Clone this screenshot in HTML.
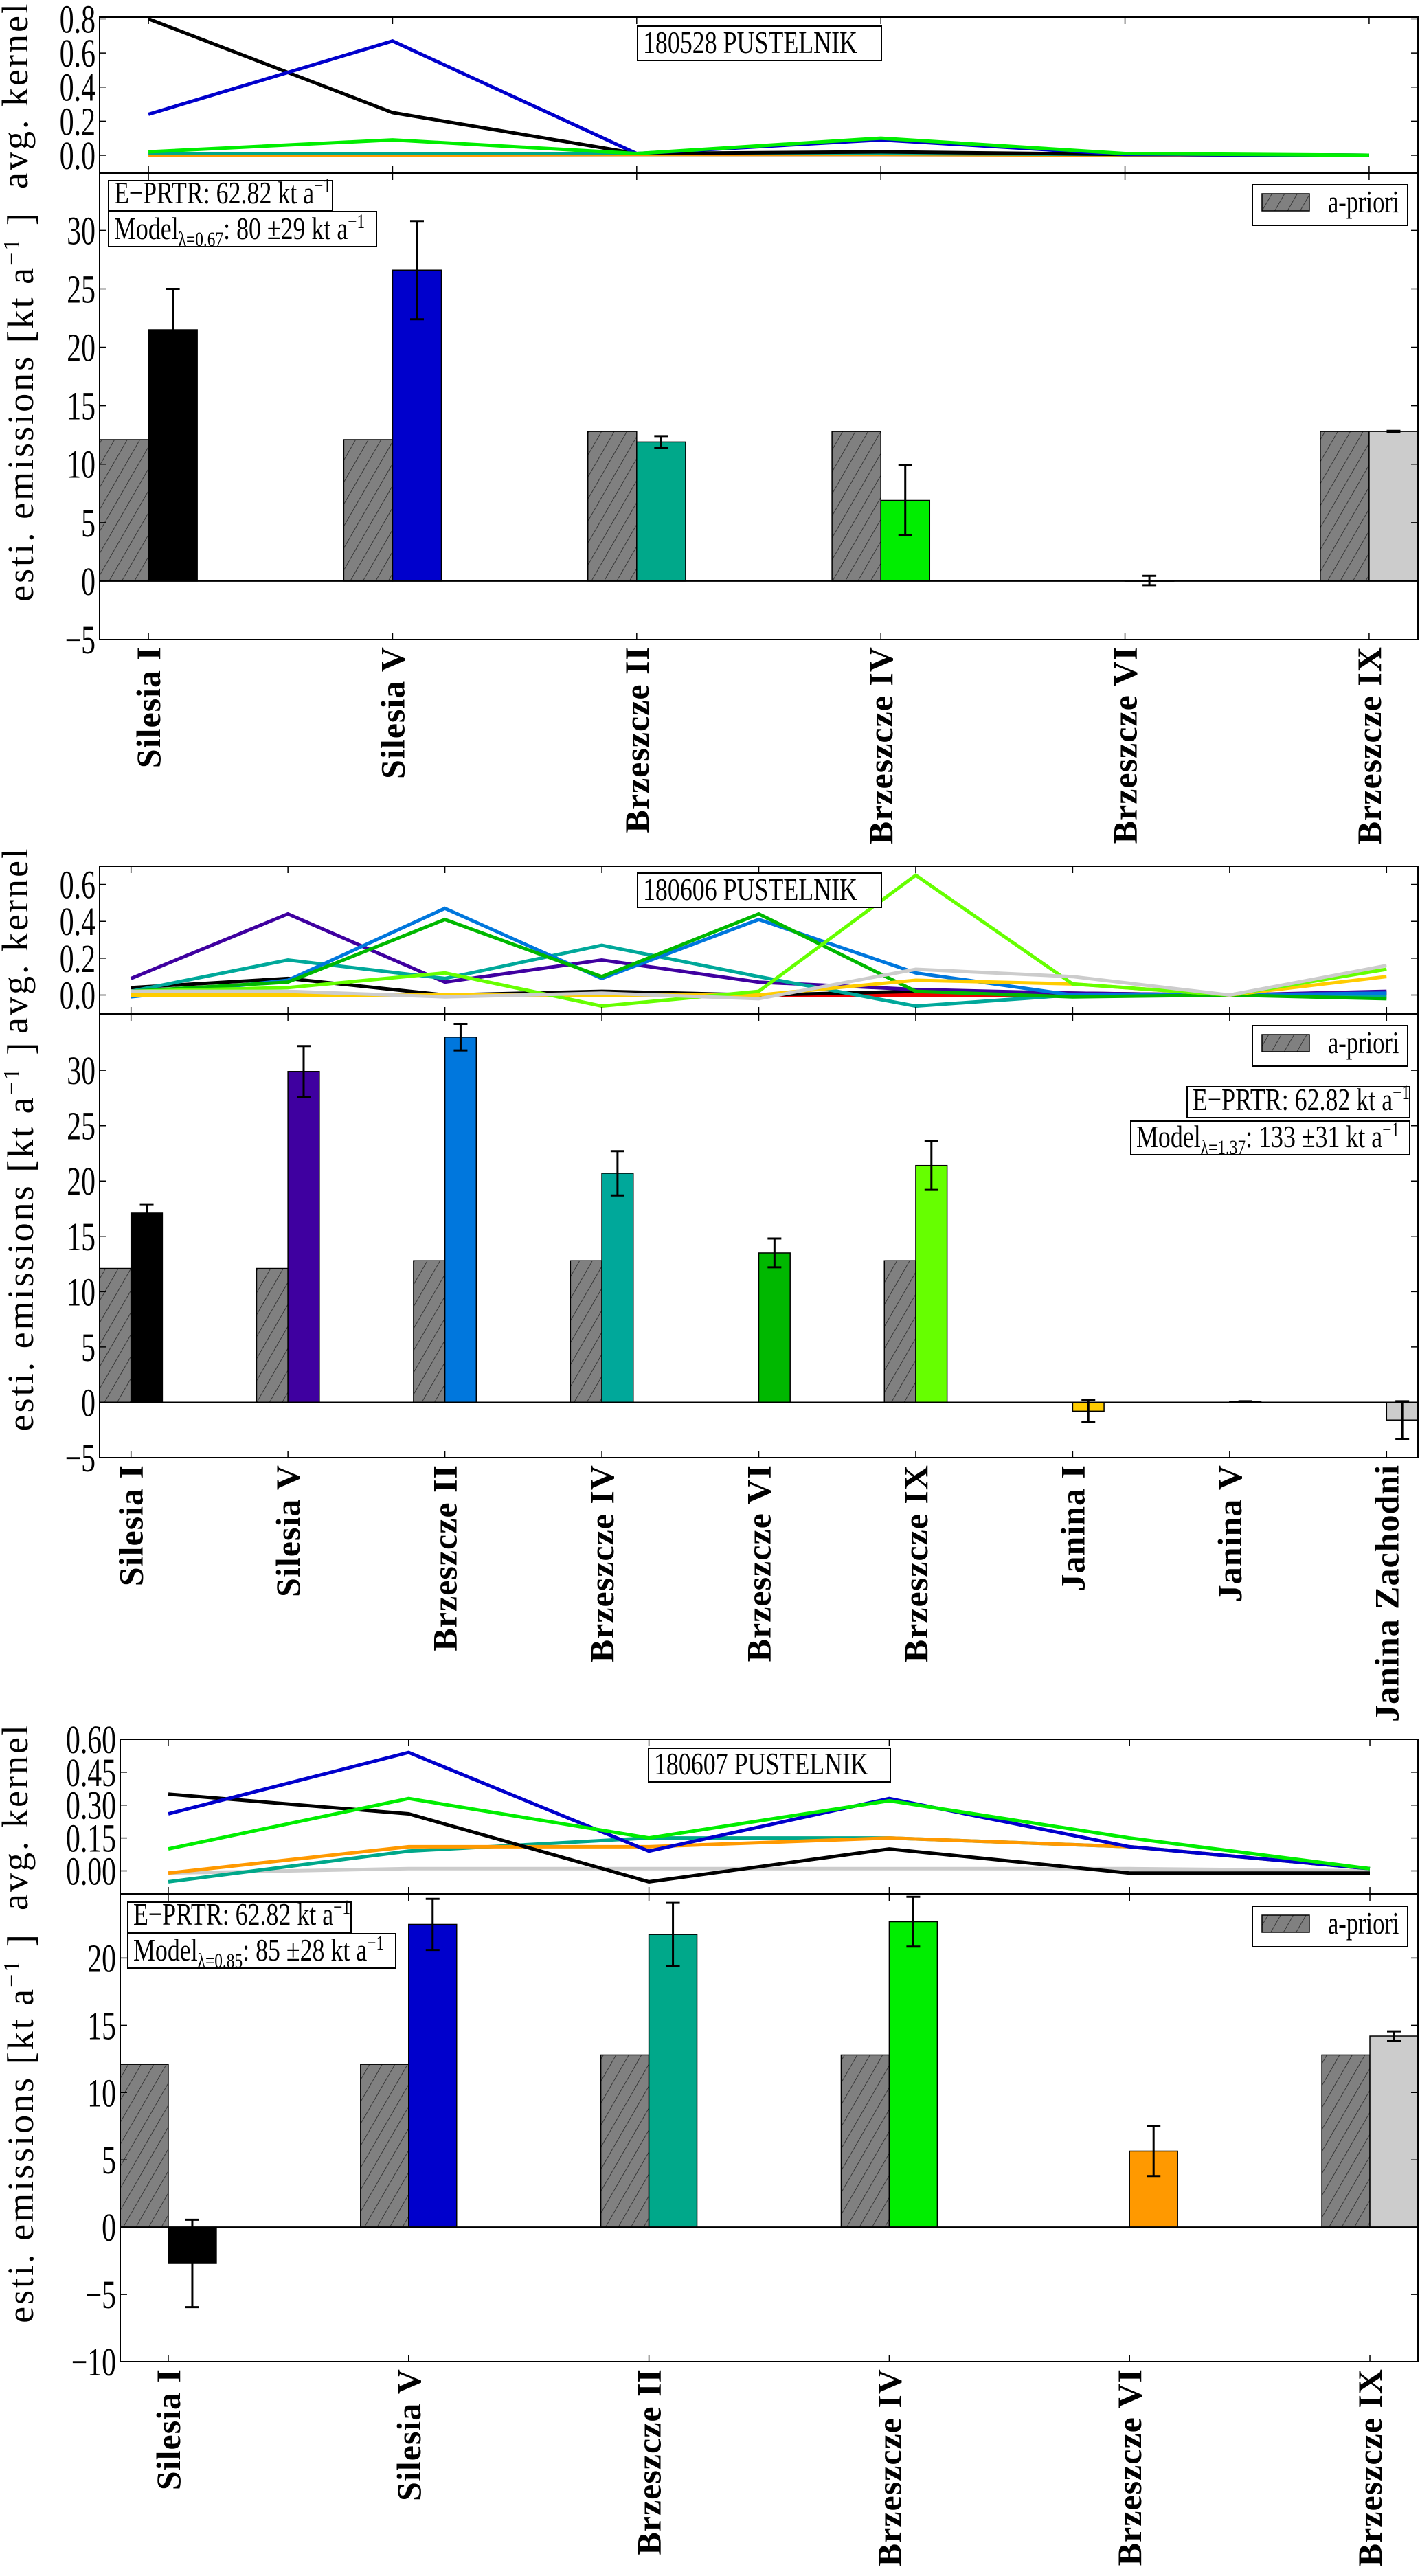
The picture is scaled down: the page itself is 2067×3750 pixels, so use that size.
<!DOCTYPE html>
<html><head><meta charset="utf-8"><style>
html,body{margin:0;padding:0;background:#fff;}
svg{display:block;}
text{font-family:"Liberation Serif",serif;fill:#000;}
</style></head><body>
<svg id="chart" width="2067" height="3750" viewBox="0 0 2067 3750" xmlns="http://www.w3.org/2000/svg">
<defs>
<pattern id="hatch" patternUnits="userSpaceOnUse" width="16" height="16" patternTransform="rotate(30)">
<rect width="16" height="16" fill="#808080"/>
<line x1="0" y1="0" x2="0" y2="16" stroke="#222" stroke-width="1.5"/>
</pattern>
</defs>
</svg>
<script>
// ---------- Panel 1 data (180528) ----------
const p1Categories = ["Silesia I","Silesia V","Brzeszcze II","Brzeszcze IV","Brzeszcze VI","Brzeszcze IX"];
const p1Apriori = [12.1,12.1,12.8,12.8,0,12.8];
const p1Estimate = [21.5,26.6,11.9,6.9,0.05,12.8];
const p1Error = [3.5,4.2,0.5,3.0,0.4,0.05];
const p1Colors = ["#000000","#0000cc","#00a88a","#00ee00","#ff9900","#cccccc"];
const p1KernelBlack = [0.80,0.25,0.01,0.02,0.005,0];
const p1KernelBlue = [0.24,0.67,0.01,0.09,0.005,0];
const p1KernelTeal = [0.01,0.01,0.01,0.01,0.005,0];
const p1KernelGreen = [0.02,0.09,0.01,0.10,0.01,0];
const p1KernelOrange = [0,0,0.005,0.005,0,0];
const p1KernelGrey = [0,0,0,0,0,0];
const p1KTicks = ["0.0","0.2","0.4","0.6","0.8"];
const p1BTicks = ["-5","0","5","10","15","20","25","30"];

// ---------- Panel 2 data (180606) ----------
const p2Categories = ["Silesia I","Silesia V","Brzeszcze II","Brzeszcze IV","Brzeszcze VI","Brzeszcze IX","Janina I","Janina V","Janina Zachodni"];
const p2Apriori = [12.1,12.1,12.8,12.8,0,12.8,0,0,0];
const p2Estimate = [17.1,29.9,33.0,20.7,13.5,21.4,-0.8,0.05,-1.6];
const p2Error = [0.8,2.3,1.2,2.0,1.3,2.2,1.0,0.05,1.7];
const p2Colors = ["#000000","#3f00a0","#0077dd","#00a89a","#00b800","#66ff00","#ffcc00","#ee0000","#cccccc"];
const p2KernelBlack = [0.04,0.09,0.0,0.02,0.0,0.02,0.01,0.0,0.01];
const p2KernelIndigo = [0.09,0.44,0.07,0.19,0.07,0.03,0.01,0.0,0.02];
const p2KernelBlue = [-0.01,0.08,0.47,0.09,0.41,0.12,0.0,0.0,0.01];
const p2KernelTeal = [0.02,0.19,0.09,0.27,0.10,-0.06,0.0,0.0,-0.01];
const p2KernelGreen = [0.02,0.07,0.41,0.10,0.44,0.02,-0.01,0.0,-0.02];
const p2KernelLime = [0.02,0.04,0.12,-0.06,0.02,0.65,0.06,0.0,0.14];
const p2KernelYellow = [0.0,0.0,0.0,0.0,0.0,0.08,0.06,0.0,0.10];
const p2KernelRed = [0,0,0,0,0,0,0,0,0];
const p2KernelGrey = [0.02,0.02,-0.01,0.01,-0.02,0.14,0.10,0.0,0.16];
const p2KTicks = ["0.0","0.2","0.4","0.6"];
const p2BTicks = ["-5","0","5","10","15","20","25","30"];

// ---------- Panel 3 data (180607) ----------
const p3Categories = ["Silesia I","Silesia V","Brzeszcze II","Brzeszcze IV","Brzeszcze VI","Brzeszcze IX"];
const p3Apriori = [12.1,12.1,12.8,12.8,0,12.8];
const p3Estimate = [-2.7,22.5,21.75,22.7,5.65,14.2];
const p3Error = [3.25,1.9,2.35,1.85,1.85,0.35];
const p3Colors = ["#000000","#0000cc","#00a88a","#00ee00","#ff9900","#cccccc"];
const p3KernelBlack = [0.35,0.26,-0.05,0.10,-0.01,-0.01];
const p3KernelBlue = [0.26,0.54,0.09,0.33,0.11,0.01];
const p3KernelTeal = [-0.05,0.09,0.15,0.15,0.11,0.01];
const p3KernelGreen = [0.10,0.33,0.15,0.32,0.15,0.01];
const p3KernelOrange = [-0.01,0.11,0.11,0.15,0.11,0.01];
const p3KernelGrey = [-0.01,0.01,0.01,0.01,0.01,0.0];
const p3KTicks = ["0.00","0.15","0.30","0.45","0.60"];
const p3BTicks = ["-10","-5","0","5","10","15","20"];

const NS="http://www.w3.org/2000/svg";
const svg=document.getElementById('chart');
function mk(tag,attrs,parent,txt){const e=document.createElementNS(NS,tag);for(const k in attrs)e.setAttribute(k,attrs[k]);if(txt!==undefined)e.textContent=txt;(parent||svg).appendChild(e);return e;}
function sx(x,s){return `translate(${x},0) scale(${s},1) translate(${-x},0)`;}

function drawPanel(cfg){
  const g=mk('g',{});
  
  
  const n=cfg.cats.length;
  const L=cfg.left,R=cfg.right;
  const xs=i=>L+(i+0.2)/(n-1+0.4)*(R-L);
  const unit=(R-L)/(n-1+0.4);
  const ky=v=>cfg.sep-(v-cfg.kMin)/(cfg.kMax-cfg.kMin)*(cfg.sep-cfg.kTop);
  const by=v=>cfg.bBottom-(v-cfg.bMin)/(cfg.bMax-cfg.bMin)*(cfg.bBottom-cfg.sep);
  cfg.kSeries.forEach(s=>{
    const pts=s.vals.map((v,i)=>xs(i).toFixed(1)+','+ky(v).toFixed(1)).join(' ');
    const pl=mk('polyline',{points:pts,fill:'none',stroke:s.color,'stroke-width':5},g);
    
    
  });
  const y0=by(0);
  cfg.cats.forEach((c,i)=>{
    const x=xs(i);
    if(cfg.apriori[i]!==0){
      const a=mk('rect',{x:x-0.2*unit,y:by(cfg.apriori[i]),width:0.2*unit,height:y0-by(cfg.apriori[i]),fill:'url(#hatch)',stroke:'#000','stroke-width':1.5},g);
      
      
    }
    const v=cfg.est[i];
    const top=Math.min(by(v),y0),h=Math.abs(y0-by(v));
    const b=mk('rect',{x:x,y:top,width:0.2*unit,height:Math.max(h,1),fill:cfg.colors[i],stroke:'#000','stroke-width':1.5},g);
    
    
    const ex=x+0.1*unit,e=cfg.err[i];
    const eb=mk('path',{d:`M${ex},${by(v+e)}V${by(v-e)}M${ex-10},${by(v+e)}H${ex+10}M${ex-10},${by(v-e)}H${ex+10}`,stroke:'#000','stroke-width':3,fill:'none'},g);
    
    
    const lt=mk('text',{x:0,y:0,transform:`translate(${x+17},${cfg.bBottom+10}) rotate(-90)`,'text-anchor':'end','font-size':50,'font-weight':'bold','letter-spacing':'1'},g,c);
    
    
    mk('path',{d:`M${x},${cfg.bBottom}v-10M${x},${cfg.sep}v10M${x},${cfg.sep}v-10M${x},${cfg.kTop}v10`,stroke:'#000','stroke-width':1.5},g);
  });
  const z=mk('line',{x1:L,x2:R,y1:y0,y2:y0,stroke:'#000','stroke-width':2},g);
  
  
  const kf=mk('rect',{x:L,y:cfg.kTop,width:R-L,height:cfg.sep-cfg.kTop,fill:'none',stroke:'#000','stroke-width':2},g);
  
  
  const bf=mk('rect',{x:L,y:cfg.sep,width:R-L,height:cfg.bBottom-cfg.sep,fill:'none',stroke:'#000','stroke-width':2},g);
  
  
  cfg.kTicks.forEach(t=>{const y=ky(parseFloat(t));
    mk('path',{d:`M${L},${y}h10M${R},${y}h-10`,stroke:'#000','stroke-width':1.5},g);
    const tt=mk('text',{x:L-6,y:y+20,'text-anchor':'end','font-size':58,transform:sx(L-6,0.72)},g,t);
    
    
  });
  cfg.bTicks.forEach(t=>{const y=by(parseFloat(t));
    mk('path',{d:`M${L},${y}h10M${R},${y}h-10`,stroke:'#000','stroke-width':1.5},g);
    const tt=mk('text',{x:L-6,y:y+20,'text-anchor':'end','font-size':58,transform:sx(L-6,0.72)},g,t.replace('-','\u2212'));
    
    
  });
  const kc=(cfg.kTop+cfg.sep)/2, bc=(cfg.sep+cfg.bBottom)/2;
  const ka=mk('text',{transform:`translate(${cfg.ylabX},${kc}) rotate(-90)`,'text-anchor':'middle','font-size':54,'letter-spacing':'3'},g,'avg. kernel');
  
  
  const ba=mk('text',{transform:`translate(${cfg.ylabX+8},${bc}) rotate(-90)`,'text-anchor':'middle','font-size':54,'letter-spacing':'3'},g);
  
  
  ba.innerHTML='esti. emissions [kt a<tspan dy="-20" font-size="34">\u22121</tspan><tspan dy="20"> ]</tspan>';
  const box=(b,name,html)=>{const gg=mk('g',{},g);
    mk('rect',{x:b[0],y:b[1],width:b[2]-b[0],height:b[3]-b[1],fill:'#fff',stroke:'#000','stroke-width':2},gg);
    const t=mk('text',{x:b[0]+8,y:b[3]-11,'font-size':46,transform:sx(b[0]+8,0.78)},gg);t.innerHTML=html;return gg;};
  box(cfg.titleBox,'panel-title-box',cfg.title);
  box(cfg.eprtrBox,'eprtr-label','E\u2212PRTR: 62.82 kt a<tspan dy="-16" font-size="30">\u22121</tspan>');
  box(cfg.modelBox,'model-label',`Model<tspan dy="10" font-size="30">\u03bb=${cfg.lambda}</tspan><tspan dy="-10">: ${cfg.model} kt a</tspan><tspan dy="-16" font-size="30">\u22121</tspan>`);
  const lg=mk('g',{},g);
  
  
  const ly=cfg.legY;
  mk('rect',{x:1823,y:ly,width:226,height:59,fill:'#fff',stroke:'#000','stroke-width':2},lg);
  mk('rect',{x:1837,y:ly+13,width:69,height:25,fill:'url(#hatch)',stroke:'#000','stroke-width':1.5},lg);
  mk('text',{x:1933,y:ly+40,'font-size':46,transform:sx(1933,0.75)},lg,'a-priori');
}

drawPanel({name:'panel-180528',title:'180528  PUSTELNIK',lambda:'0.67',model:'80 \u00b129',
  cats:p1Categories,apriori:p1Apriori,est:p1Estimate,err:p1Error,colors:p1Colors,
  kSeries:[{key:'grey',color:'#cccccc',vals:p1KernelGrey},{key:'orange',color:'#ff9900',vals:p1KernelOrange},{key:'teal',color:'#00a88a',vals:p1KernelTeal},{key:'black',color:'#000',vals:p1KernelBlack},{key:'blue',color:'#0000cc',vals:p1KernelBlue},{key:'green',color:'#00ee00',vals:p1KernelGreen}],
  kTicks:p1KTicks,bTicks:p1BTicks,left:145,right:2064,kTop:25,sep:252,bBottom:931,kMin:-0.105,kMax:0.81,bMin:-5,bMax:34.9,ylabX:40,
  titleBox:[928,38,1283,88],eprtrBox:[158,263,484,307],modelBox:[158,308,548,359],legY:269});

drawPanel({name:'panel-180606',title:'180606  PUSTELNIK',lambda:'1.37',model:'133 \u00b131',
  cats:p2Categories,apriori:p2Apriori,est:p2Estimate,err:p2Error,colors:p2Colors,
  kSeries:[{key:'red',color:'#ee0000',vals:p2KernelRed},{key:'black',color:'#000',vals:p2KernelBlack},{key:'indigo',color:'#3f00a0',vals:p2KernelIndigo},{key:'teal',color:'#00a89a',vals:p2KernelTeal},{key:'blue',color:'#0077dd',vals:p2KernelBlue},{key:'green',color:'#00b800',vals:p2KernelGreen},{key:'yellow',color:'#ffcc00',vals:p2KernelYellow},{key:'lime',color:'#66ff00',vals:p2KernelLime},{key:'grey',color:'#cccccc',vals:p2KernelGrey}],
  kTicks:p2KTicks,bTicks:p2BTicks,left:145,right:2064,kTop:1261,sep:1476,bBottom:2122,kMin:-0.1025,kMax:0.699,bMin:-5,bMax:35.1,ylabX:40,
  titleBox:[928,1271,1283,1321],eprtrBox:[1728,1582,2052,1627],modelBox:[1646,1632,2052,1681],legY:1493});

drawPanel({name:'panel-180607',title:'180607  PUSTELNIK',lambda:'0.85',model:'85 \u00b128',
  cats:p3Categories,apriori:p3Apriori,est:p3Estimate,err:p3Error,colors:p3Colors,
  kSeries:[{key:'grey',color:'#cccccc',vals:p3KernelGrey},{key:'teal',color:'#00a88a',vals:p3KernelTeal},{key:'orange',color:'#ff9900',vals:p3KernelOrange},{key:'black',color:'#000',vals:p3KernelBlack},{key:'blue',color:'#0000cc',vals:p3KernelBlue},{key:'green',color:'#00ee00',vals:p3KernelGreen}],
  kTicks:p3KTicks,bTicks:p3BTicks,left:175,right:2064,kTop:2532,sep:2757,bBottom:3438,kMin:-0.105,kMax:0.6,bMin:-10,bMax:24.77,ylabX:40,
  titleBox:[944,2545,1296,2594],eprtrBox:[186,2769,511,2813],modelBox:[186,2815,576,2865],legY:2775});
</script>
</body></html>
